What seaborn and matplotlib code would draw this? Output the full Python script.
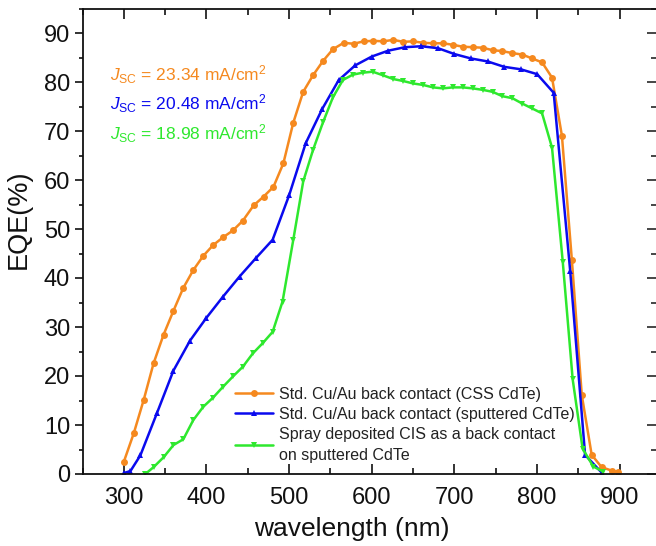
import matplotlib
matplotlib.use("Agg")
import matplotlib.pyplot as plt
from matplotlib.ticker import MultipleLocator
import seaborn as sns
import pandas as pd

# EQE spectra (wavelength in nm, EQE in %)
css_wl = [300, 312, 324, 336, 348, 360, 372, 384, 396, 408, 420, 432, 444, 457,
          469, 481, 493, 505, 517, 529, 541, 553, 566, 578, 590, 602, 614, 626,
          638, 650, 662, 674, 686, 698, 710, 722, 734, 746, 758, 770, 782, 794,
          806, 818, 830, 842, 854, 866, 878, 890, 898]
css_eqe = [2.5, 8.3, 15.1, 22.6, 28.4, 33.3, 38.0, 41.6, 44.5, 46.7, 48.3, 49.7,
           51.7, 54.8, 56.6, 58.6, 63.4, 71.7, 78.0, 81.4, 84.3, 86.7, 88.0, 87.8,
           88.3, 88.4, 88.3, 88.6, 88.2, 88.3, 88.0, 87.9, 87.9, 87.6, 87.2, 87.1,
           87.0, 86.5, 86.3, 85.9, 85.6, 84.8, 84.0, 80.9, 69.0, 43.7, 16.1, 3.9,
           1.4, 0.7, 0.4]

sput_wl = [300, 308, 320, 340, 360, 380, 400, 420, 440, 460, 480, 500, 520, 540,
           560, 580, 600, 620, 640, 660, 680, 700, 720, 740, 760, 780, 800, 820,
           840, 858, 878]
sput_eqe = [0.2, 0.6, 3.8, 12.4, 21.1, 27.2, 31.9, 36.2, 40.3, 44.1, 47.8, 56.9,
            67.5, 74.5, 80.4, 83.4, 85.2, 86.4, 87.1, 87.3, 86.9, 85.7, 84.8, 84.2,
            83.1, 82.6, 81.6, 77.8, 41.4, 3.9, 0.3]

cis_wl = [326, 336, 348, 360, 372, 384, 396, 408, 420, 432, 444, 456, 468, 480,
          492, 505, 517, 529, 541, 553, 565, 577, 589, 601, 613, 626, 638, 650,
          662, 674, 686, 698, 710, 722, 734, 746, 758, 770, 782, 794, 806, 818,
          831, 843, 855, 868, 880]
cis_eqe = [0.0, 1.4, 3.4, 5.9, 7.1, 11.0, 13.7, 15.6, 17.8, 19.9, 21.9, 24.6, 26.7,
           29.0, 35.2, 47.8, 59.7, 66.2, 71.8, 76.9, 80.4, 81.5, 81.9, 82.1, 81.4,
           80.6, 80.2, 79.7, 79.4, 78.9, 78.7, 78.9, 78.9, 78.7, 78.4, 78.0, 77.1,
           76.7, 75.6, 74.6, 73.6, 66.6, 43.3, 19.3, 5.2, 1.5, 0.5]

labels = ["Std. Cu/Au back contact (CSS CdTe)",
          "Std. Cu/Au back contact (sputtered CdTe)",
          "Spray deposited CIS as a back contact\non sputtered CdTe"]
jsc_values = ["23.34", "20.48", "18.98"]
colors = ["#F5891F", "#0A0AEE", "#2EE82E"]
markers = ["o", "^", "v"]

sns.set_theme(style="ticks")
plt.rcParams["font.family"] = ["Liberation Sans", "DejaVu Sans"]
plt.rcParams["mathtext.fontset"] = "custom"
plt.rcParams["mathtext.rm"] = "Liberation Sans"
plt.rcParams["mathtext.it"] = "Liberation Sans:italic"

W, H = 656, 546
fig = plt.figure(figsize=(W / 100, H / 100), dpi=100)
ax = fig.add_axes([82.5 / W, (H - 474) / H, (657 - 82.5) / W, (474 - 8.5) / H])

series = [(css_wl, css_eqe), (sput_wl, sput_eqe), (cis_wl, cis_eqe)]
for (wl, eqe), lab, col, mk in zip(series, labels, colors, markers):
    df = pd.DataFrame({"wavelength": wl, "EQE": eqe})
    sns.lineplot(data=df, x="wavelength", y="EQE", ax=ax, color=col, label=lab,
                 marker=mk, markersize=5, markeredgewidth=0, linewidth=1.8,
                 sort=False)

ax.set_xlim(250, 945)
ax.set_ylim(0, 95)
ax.xaxis.set_major_locator(MultipleLocator(100))
ax.xaxis.set_minor_locator(MultipleLocator(50))
ax.yaxis.set_major_locator(MultipleLocator(10))
ax.yaxis.set_minor_locator(MultipleLocator(5))

for s in ax.spines.values():
    s.set_linewidth(1.3)
    s.set_color("#111111")

ax.tick_params(axis="y", which="both", direction="out", left=True, right=False,
               labelsize=17, width=1.2, colors="#111111", pad=3)
ax.tick_params(axis="y", which="major", length=6)
ax.tick_params(axis="y", which="minor", length=3)
ax.tick_params(axis="x", which="both", direction="in", top=True, bottom=True,
               labelsize=17, width=1.2, colors="#111111", pad=9)
ax.tick_params(axis="x", which="major", length=7)
ax.tick_params(axis="x", which="minor", length=4)
# inward ticks along the right edge
ax_r = ax.secondary_yaxis("right")
ax_r.yaxis.set_major_locator(MultipleLocator(10))
ax_r.yaxis.set_minor_locator(MultipleLocator(5))
ax_r.tick_params(which="both", direction="in", labelright=False, width=1.2)
ax_r.tick_params(which="major", length=7)
ax_r.tick_params(which="minor", length=4)

ax.set_xlabel("wavelength (nm)", fontsize=19, color="#111111")
ax.xaxis.set_label_coords(0.469, -0.092)
ax.set_ylabel("EQE(%)", fontsize=19.5, color="#111111")
ax.yaxis.set_label_coords(-0.088, 0.548)

for i, (jv, col) in enumerate(zip(jsc_values, colors)):
    ax.text(0.047, 0.858 - i * 0.063,
            r"$\mathit{J}_{\mathrm{SC}}$" + f" = {jv} mA/cm" + r"$^{2}$",
            transform=ax.transAxes, color=col, fontsize=12.5, va="center")

leg = ax.legend(loc="upper left", bbox_to_anchor=(235 / W, 1 - 387 / H),
                bbox_transform=fig.transFigure, frameon=False, fontsize=11.5,
                handlelength=2.4, handletextpad=0.35, labelspacing=0.3,
                borderpad=0, borderaxespad=0)
for t in leg.get_texts():
    t.set_color("#222222")
    t.set_linespacing(1.5)

fig.savefig("out.png", dpi=100)
